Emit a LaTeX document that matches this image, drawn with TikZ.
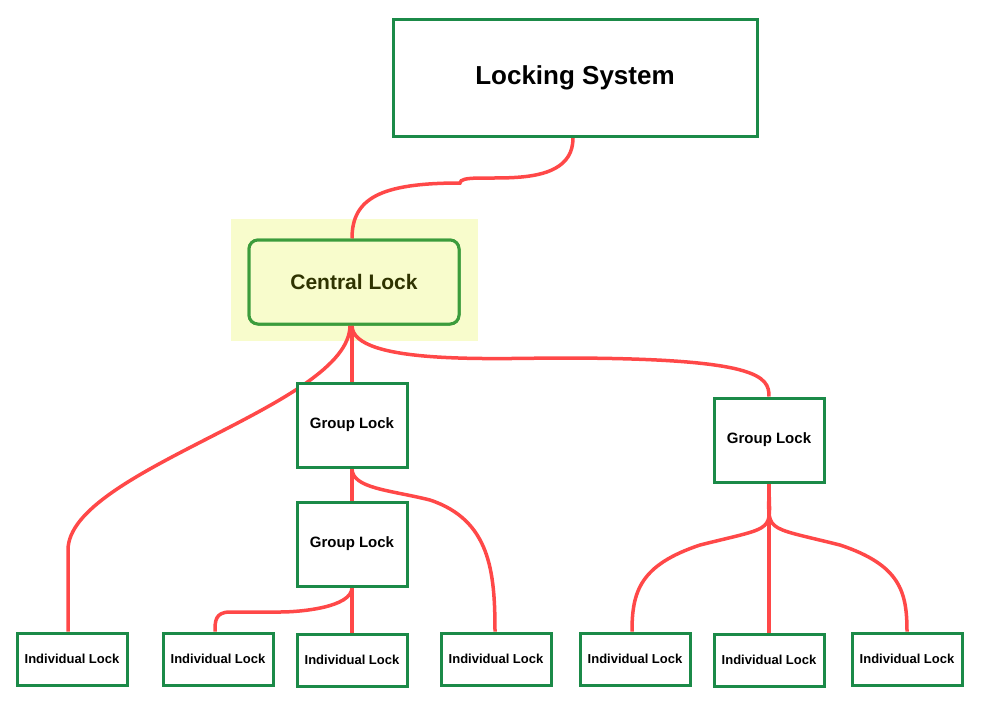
\documentclass[tikz,border=0pt]{standalone}
\usepackage{fontspec}
\setmainfont{Liberation Sans}
\definecolor{boxgreen}{HTML}{1B8A48}
\definecolor{lockgreen}{HTML}{3C9C3C}
\definecolor{linkred}{HTML}{FF4848}
\definecolor{paleyellow}{HTML}{F8FCCC}
\definecolor{olivetext}{HTML}{2F3300}
\tikzset{
  box/.style={draw=boxgreen,line width=3pt,fill=white,inner sep=0pt,font=\bfseries},
  group/.style={box,minimum width=110pt,minimum height=84pt,font=\fontsize{15}{18}\selectfont\bfseries},
  leaf/.style={box,minimum width=110pt,minimum height=52pt,font=\fontsize{13}{15}\selectfont\bfseries},
  link/.style={draw=linkred,line width=3.5pt}
}
\begin{document}
\begin{tikzpicture}[x=1pt,y=-1pt]
\useasboundingbox (0,0) rectangle (985,724);
\fill[paleyellow] (231,219) rectangle (478,341);
% nodes
\node[box,minimum width=364pt,minimum height=117pt,font=\fontsize{26}{30}\selectfont\bfseries] (sys) at (575,78) {Locking System};
\node[draw=lockgreen,line width=3pt,rounded corners=9pt,fill=paleyellow,minimum width=210pt,minimum height=84pt,text=olivetext,font=\fontsize{21}{24}\selectfont\bfseries] (central) at (354,282) {Central Lock};
\node[group] (ga) at (352,425) {Group Lock};
\node[group] (gb) at (352,544) {Group Lock};
\node[group] (gc) at (769,440) {Group Lock};
\node[leaf] (ia) at (72,659) {Individual Lock};
\node[leaf] (ib) at (218,659) {Individual Lock};
\node[leaf] (ic) at (352,660) {Individual Lock};
\node[leaf] (id) at (496,659) {Individual Lock};
\node[leaf] (ie) at (635,659) {Individual Lock};
\node[leaf] (if) at (769,660) {Individual Lock};
\node[leaf] (ig) at (907,659) {Individual Lock};
% links
\begin{scope}[on background layer/.try]
\draw[link] ([xshift=-2pt]sys.south) .. controls +(0,60) and +(0,-15) .. (460,183) .. controls +(-80,0) and +(0,-40) .. ([xshift=-2pt]central.north);
\draw[link] ([xshift=-4pt]central.south) .. controls +(0,80) and +(0,-80) .. (68,550) -- ([xshift=-4pt]ia.north);
\draw[link] ([xshift=-2pt]central.south) -- (ga.north);
\draw[link] ([xshift=-2pt]central.south) .. controls +(0,40) and +(-60,0) .. (560,358) .. controls +(200,0) and +(0,-20) .. (gc.north);
\draw[link] (ga.south) -- (gb.north);
\draw[link] (ga.south) .. controls +(0,20) and +(-40,-10) .. (430,500) .. controls +(60,20) and +(0,-60) .. ([xshift=-1pt]id.north);
\draw[link] (gb.south) .. controls +(0,20) and +(20,0) .. (280,612) -- (230,612) .. controls +(-15,0) and +(0,-10) .. ([xshift=-3pt]ib.north);
\draw[link] (gb.south) -- (ic.north);
\draw[link] (gc.south) .. controls +(0,50) and +(80,-20) .. (700,545) .. controls +(-60,20) and +(0,-40) .. ([xshift=-3pt]ie.north);
\draw[link] (gc.south) -- (if.north);
\draw[link] (gc.south) .. controls +(0,50) and +(-80,-20) .. (840,545) .. controls +(60,20) and +(0,-40) .. (ig.north);
\end{scope}
% redraw boxes on top of links
\node[box,minimum width=364pt,minimum height=117pt,font=\fontsize{26}{30}\selectfont\bfseries] at (sys) {Locking System};
\node[draw=lockgreen,line width=3pt,rounded corners=9pt,fill=paleyellow,minimum width=210pt,minimum height=84pt,text=olivetext,font=\fontsize{21}{24}\selectfont\bfseries] at (central) {Central Lock};
\foreach \n in {ga,gb,gc}{\node[group] at (\n) {Group Lock};}
\foreach \n in {ia,ib,ic,id,ie,if,ig}{\node[leaf] at (\n) {Individual Lock};}
\end{tikzpicture}
\end{document}
